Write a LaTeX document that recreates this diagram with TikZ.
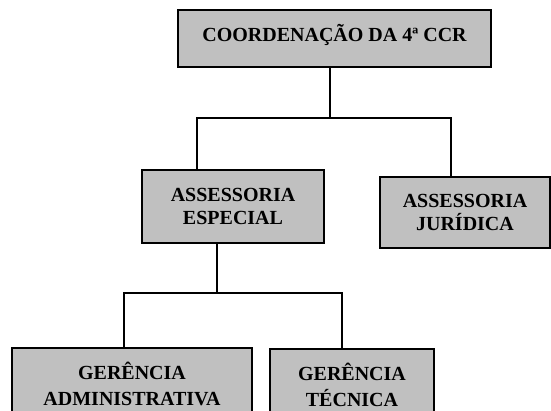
\documentclass[tikz,border=0pt]{standalone}
\usepackage{fontspec}
\setmainfont{Liberation Serif}
\begin{document}
\begin{tikzpicture}[x=1pt,y=-1pt,
  box/.style={draw=black,fill=boxgray,line width=1.5pt,inner sep=0pt,
    font=\bfseries\fontsize{20}{23}\selectfont,align=center},
  conn/.style={draw=black,line width=1.3pt}]
\definecolor{boxgray}{RGB}{192,192,192}
\useasboundingbox (0,0) rectangle (551,410);
\node[box,minimum width=313pt,minimum height=57pt] (top) at (334.5,38.5) {};
\node[font=\bfseries\fontsize{20}{23}\selectfont,inner sep=0pt] (toptext) at (334.5,34.5) {COORDENAÇÃO DA 4ª CCR};
\node[box,minimum width=182pt,minimum height=73pt] (ae) at (233,206.5) {ASSESSORIA\\ESPECIAL};
\node[box,minimum width=170pt,minimum height=71pt] (aj) at (465,212.5) {ASSESSORIA\\JURÍDICA};
\node[box,minimum width=240pt,minimum height=72pt] (ga) at (132,384) {GERÊNCIA\\[3pt]ADMINISTRATIVA};
\node[box,minimum width=164pt,minimum height=71pt] (gt) at (352,384.5) {GERÊNCIA\\[3pt]TÉCNICA};
\coordinate (j1) at (330,118);
\coordinate (j1l) at (197,118);
\coordinate (j1r) at (451,118);
\coordinate (j2) at (217,293);
\coordinate (j2l) at (124,293);
\coordinate (j2r) at (342,293);
\draw[conn] (top.south -| j1) -- (j1);
\draw[conn] (ae.north -| j1l) -- (j1l) -- (j1r) -- (aj.north -| j1r);
\draw[conn] (ae.south -| j2) -- (j2);
\draw[conn] (ga.north -| j2l) -- (j2l) -- (j2r) -- (gt.north -| j2r);
\end{tikzpicture}
\end{document}
